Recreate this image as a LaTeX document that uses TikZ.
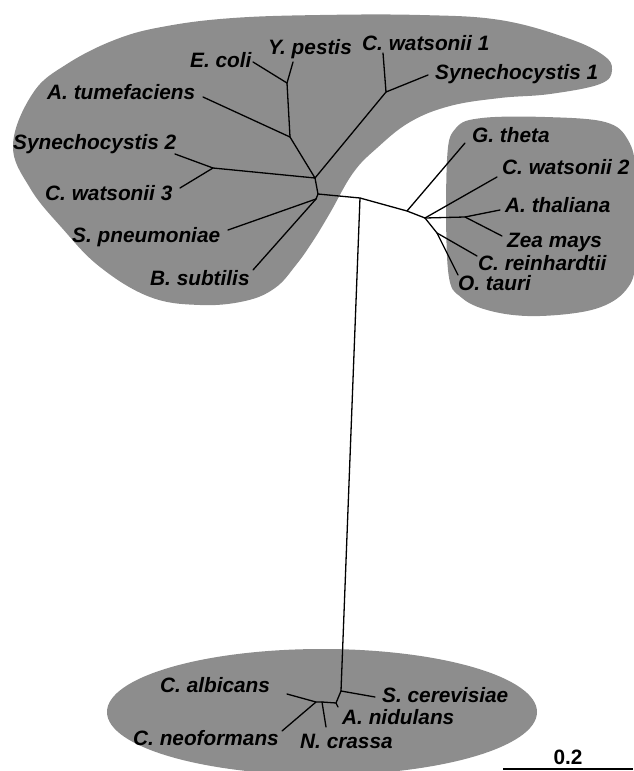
\documentclass[tikz,border=0pt]{standalone}
\usepackage{fontspec}
\setmainfont{Liberation Sans}
\definecolor{blobgray}{RGB}{141,141,141}

\begin{document}
\begin{tikzpicture}[x=1pt, y=-1pt,
    branch/.style={line width=1.3pt, line cap=round, line join=round},
    taxon/.style={anchor=base west, inner sep=0pt, font=\fontsize{20.8}{24}\selectfont\bfseries\itshape},
    blob/.style={fill=blobgray, draw=none}]
  \useasboundingbox (0,0) rectangle (634,771);

  % shaded groups
  \fill[blob] plot[smooth cycle, tension=0.65] coordinates {
    (13,145) (33,93) (67,64) (117,39) (167,26) (233,18) (320,15) (420,15)
    (500,20) (567,38) (603,55) (612,70) (600,84) (550,94) (500,98) (450,106)
    (410,122) (377,148) (353,173) (330,213) (313,241) (296,265) (275,288)
    (245,301) (200,305) (150,297) (100,267) (62,228) (30,188)};
  \fill[blob] plot[smooth cycle, tension=0.6] coordinates {
    (447,160) (456,128) (482,118) (545,117) (605,122) (628,140) (636,175)
    (636,258) (626,290) (595,309) (540,316) (495,312) (462,298) (448,270)};
  \fill[blob] (322,712) ellipse [x radius=215, y radius=63];

  % inner points of the tree
  \coordinate (root) at (318,194);
  \coordinate (up) at (315,178);
  \coordinate (low) at (316,199);
  \coordinate (cyan) at (386,92);
  \coordinate (syn) at (213,168);
  \coordinate (agro) at (290,137);
  \coordinate (entero) at (287,83);
  \coordinate (stem) at (360,198);
  \coordinate (crypto) at (407,211);
  \coordinate (plant) at (425,218);
  \coordinate (angio) at (465,217);
  \coordinate (green) at (437,233);
  \coordinate (fungi) at (341,691);
  \coordinate (asco) at (336,703);
  \coordinate (pezizo) at (322,702);
  \coordinate (yeast) at (316,702);

  % tips
  \coordinate (t-ecoli) at (253,62);
  \coordinate (t-ypes) at (293,62);
  \coordinate (t-cwa1) at (383,53);
  \coordinate (t-syn1) at (428,75);
  \coordinate (t-atum) at (203,97);
  \coordinate (t-syn2) at (175,154);
  \coordinate (t-cwa3) at (180,188);
  \coordinate (t-spn) at (228,230);
  \coordinate (t-bsu) at (253,270);
  \coordinate (t-gth) at (465,143);
  \coordinate (t-cwa2) at (497,177);
  \coordinate (t-ath) at (500,210);
  \coordinate (t-zea) at (502,236);
  \coordinate (t-cre) at (477,256);
  \coordinate (t-ota) at (458,275);
  \coordinate (t-sce) at (375,697);
  \coordinate (t-ani) at (338,707);
  \coordinate (t-cal) at (287,694);
  \coordinate (t-cne) at (282,731);
  \coordinate (t-ncr) at (326,727);

  % labels
  \node[taxon] (ecoli) at (190,67) {E. coli};
  \node[taxon] (ypes) at (268,54) {Y. pestis};
  \node[taxon] (cwa1) at (362,50) {C. watsonii 1};
  \node[taxon] (syn1) at (435,79) {Synechocystis 1};
  \node[taxon] (atum) at (47,99) {A. tumefaciens};
  \node[taxon] (syn2) at (13,149) {Synechocystis 2};
  \node[taxon] (cwa3) at (45,200) {C. watsonii 3};
  \node[taxon] (spn) at (72,242) {S. pneumoniae};
  \node[taxon] (bsu) at (150,285) {B. subtilis};
  \node[taxon] (gth) at (472,142) {G. theta};
  \node[taxon] (cwa2) at (502,174) {C. watsonii 2};
  \node[taxon] (ath) at (505,212) {A. thaliana};
  \node[taxon] (zea) at (507,247) {Zea mays};
  \node[taxon] (cre) at (478,270) {C. reinhardtii};
  \node[taxon] (ota) at (458,290) {O. tauri};
  \node[taxon] (cal) at (160,692) {C. albicans};
  \node[taxon] (sce) at (382,702) {S. cerevisiae};
  \node[taxon] (ani) at (342,724) {A. nidulans};
  \node[taxon] (cne) at (133,745) {C. neoformans};
  \node[taxon] (ncr) at (300,748) {N. crassa};

  % branches
  \draw[branch] (low) -- (root) -- (up) -- (agro) -- (entero);
  \draw[branch] (entero) -- (t-ecoli);
  \draw[branch] (entero) -- (t-ypes);
  \draw[branch] (agro) -- (t-atum);
  \draw[branch] (up) -- (cyan) -- (t-cwa1);
  \draw[branch] (cyan) -- (t-syn1);
  \draw[branch] (up) -- (syn) -- (t-syn2);
  \draw[branch] (syn) -- (t-cwa3);
  \draw[branch] (low) -- (t-spn);
  \draw[branch] (low) -- (t-bsu);
  \draw[branch] (root) -- (stem) -- (crypto) -- (plant);
  \draw[branch] (crypto) -- (t-gth);
  \draw[branch] (plant) -- (t-cwa2);
  \draw[branch] (plant) -- (angio) -- (t-ath);
  \draw[branch] (angio) -- (t-zea);
  \draw[branch] (plant) -- (green) -- (t-cre);
  \draw[branch] (green) -- (t-ota);
  \draw[branch] (stem) -- (fungi) -- (t-sce);
  \draw[branch] (fungi) -- (asco) -- (t-ani);
  \draw[branch] (asco) -- (pezizo) -- (yeast) -- (t-cal);
  \draw[branch] (yeast) -- (t-cne);
  \draw[branch] (pezizo) -- (t-ncr);

  % scale bar
  \coordinate (bar-l) at (503,769);
  \coordinate (bar-r) at (633,769);
  \draw[line width=2.4pt] (bar-l) -- (bar-r);
  \node[anchor=base, inner sep=0pt, font=\fontsize{20.8}{24}\selectfont\bfseries] (scale) at (568,764) {0.2};
\end{tikzpicture}
\end{document}
